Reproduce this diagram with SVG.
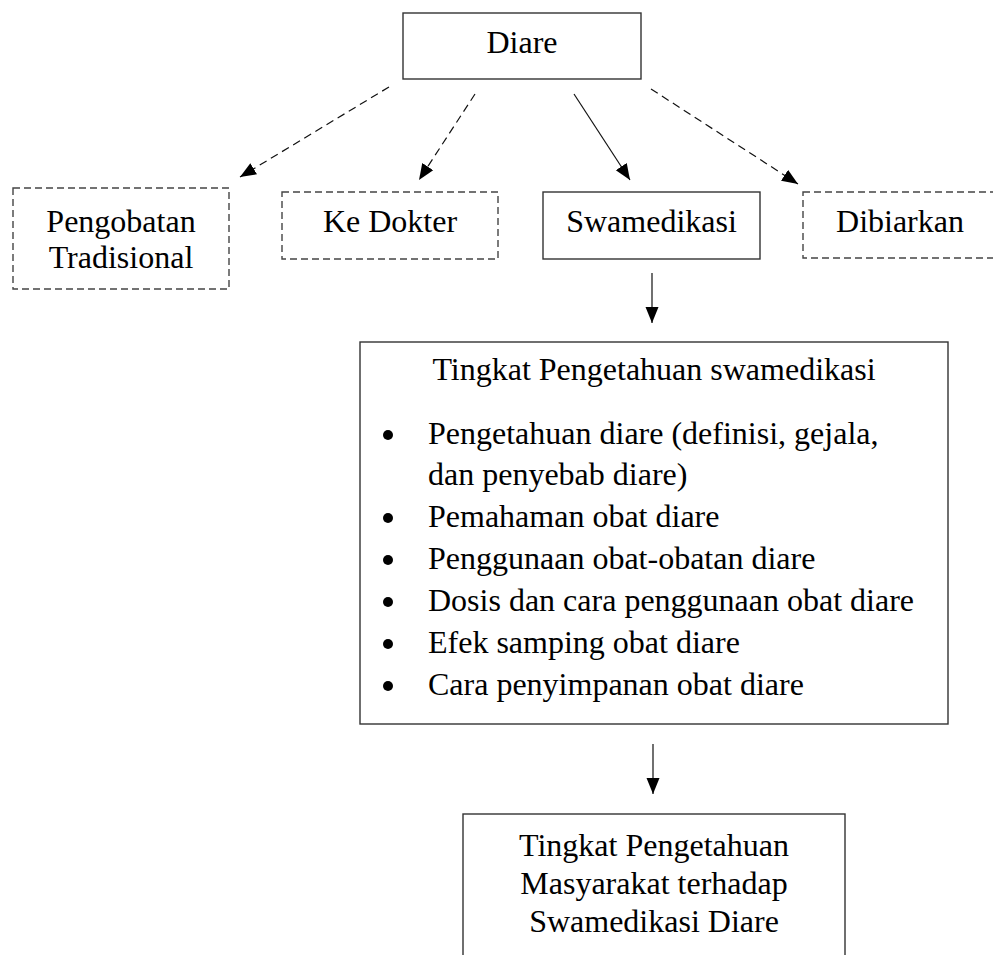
<svg xmlns="http://www.w3.org/2000/svg" width="993" height="955" viewBox="0 0 993 955">
<style>
  text { font-family: "Liberation Serif", "Times New Roman", serif; font-size: 32px; fill: #000; }
  .c { text-anchor: middle; }
  .box { fill: #fff; stroke: #333; stroke-width: 1.4; }
  .dbox { fill: #fff; stroke: #444; stroke-width: 1.4; stroke-dasharray: 7 4; }
  .conn { fill: none; stroke: #111; stroke-width: 1.2; marker-end: url(#ah); }
  .dash { stroke-dasharray: 8 5; }
  .bul { fill: #000; }
</style>
<defs>
  <marker id="ah" markerUnits="userSpaceOnUse" markerWidth="17" markerHeight="14" refX="16" refY="7" orient="auto">
    <path d="M0,0.5 L16,7 L0,13.5 z" fill="#000"/>
  </marker>
</defs>
<rect width="993" height="955" fill="#fff"/>
<g id="connectors">
  <line class="conn dash" x1="389" y1="87" x2="240" y2="177"/>
  <line class="conn dash" x1="475" y1="94" x2="419" y2="180"/>
  <line class="conn" x1="574" y1="94" x2="630" y2="180"/>
  <line class="conn dash" x1="651" y1="89" x2="798" y2="184"/>
  <line class="conn" x1="652" y1="273" x2="652" y2="323"/>
  <line class="conn" x1="653" y1="744" x2="653" y2="794"/>
</g>
<g id="diare">
  <rect class="box" x="403" y="13" width="238" height="66"/>
  <text class="c" x="522" y="53">Diare</text>
</g>
<g id="pengobatan">
  <rect class="dbox" x="13" y="188" width="216" height="101"/>
  <text class="c" x="121" y="232">Pengobatan</text>
  <text class="c" x="121" y="268">Tradisional</text>
</g>
<g id="kedokter">
  <rect class="dbox" x="282" y="192" width="216" height="67"/>
  <text class="c" x="390" y="232">Ke Dokter</text>
</g>
<g id="swamedikasi">
  <rect class="box" x="543" y="192" width="217" height="67"/>
  <text class="c" x="651.5" y="232">Swamedikasi</text>
</g>
<g id="dibiarkan">
  <rect class="dbox" x="803" y="192" width="200" height="66"/>
  <text class="c" x="900" y="232">Dibiarkan</text>
</g>
<g id="tingkat">
  <rect class="box" x="360" y="342" width="588" height="382"/>
  <text class="c" x="654" y="380">Tingkat Pengetahuan swamedikasi</text>
  <circle class="bul" cx="388" cy="435" r="5"/>
  <text x="428" y="444">Pengetahuan diare (definisi, gejala,</text>
  <text x="428" y="485">dan penyebab diare)</text>
  <circle class="bul" cx="388" cy="518" r="5"/>
  <text x="428" y="527">Pemahaman obat diare</text>
  <circle class="bul" cx="388" cy="560" r="5"/>
  <text x="428" y="569">Penggunaan obat-obatan diare</text>
  <circle class="bul" cx="388" cy="602" r="5"/>
  <text x="428" y="611">Dosis dan cara penggunaan obat diare</text>
  <circle class="bul" cx="388" cy="644" r="5"/>
  <text x="428" y="653">Efek samping obat diare</text>
  <circle class="bul" cx="388" cy="686" r="5"/>
  <text x="428" y="695">Cara penyimpanan obat diare</text>
</g>
<g id="masyarakat">
  <rect class="box" x="463" y="814" width="382" height="160"/>
  <text class="c" x="654" y="856">Tingkat Pengetahuan</text>
  <text class="c" x="654" y="894">Masyarakat terhadap</text>
  <text class="c" x="654" y="932">Swamedikasi Diare</text>
</g>
</svg>
